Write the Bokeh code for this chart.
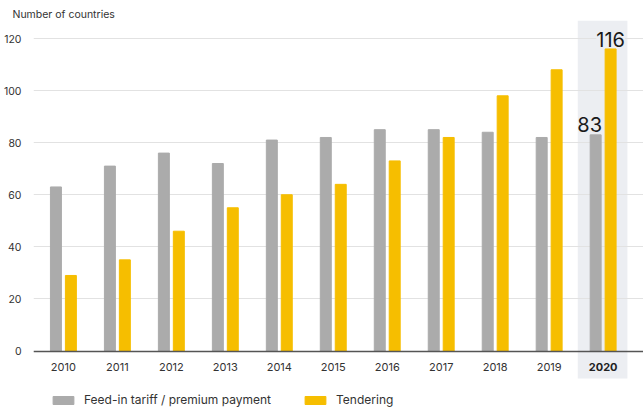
from bokeh.plotting import figure
from bokeh.models import (Range1d, FixedTicker, LinearAxis, BoxAnnotation, Label,
                          ColumnDataSource)
from bokeh.transform import dodge
from bokeh.embed import file_html
from bokeh.resources import INLINE

# Number of countries with each support policy, per year
years = [2010, 2011, 2012, 2013, 2014, 2015, 2016, 2017, 2018, 2019, 2020]
feed_in = [63, 71, 76, 72, 81, 82, 85, 85, 84, 82, 83]
tendering = [29, 35, 46, 55, 60, 64, 73, 82, 98, 108, 116]
y_ticks = [0, 20, 40, 60, 80, 100, 120]

series_names = ["Feed-in tariff / premium payment", "Tendering"]
GREY = "#ababab"
YELLOW = "#f6be00"
HIGHLIGHT = "#eceef2"
FONT = "Inter"

# geometry: pixels per year and per country; frame from x=31 to 643, y=TOP to 407
PX_YEAR = 54.15
PX_UNIT = 2.604
TOP = 20
FIRST_CENTER_PX = 30.0  # first group centre, measured from the frame's left edge
ZERO_PX = 350.5         # baseline, measured from the top of the canvas
H = 407
W_FRAME = 643 - 31

x_start = years[0] - FIRST_CENTER_PX / PX_YEAR
x_end = x_start + W_FRAME / PX_YEAR
y_end = (ZERO_PX - TOP) / PX_UNIT
y_start = -(H - ZERO_PX) / PX_UNIT

src = ColumnDataSource(dict(year=years, feed_in=feed_in, tendering=tendering))

p = figure(width=643, height=407, output_backend="svg", toolbar_location=None,
           x_range=Range1d(x_start, x_end), y_range=Range1d(y_start, y_end),
           min_border_left=31, min_border_right=0, min_border_top=TOP,
           min_border_bottom=0, outline_line_color=None,
           background_fill_color="white", border_fill_color="white")

# caption above the plot area
p.title.text = "Number of countries"
p.title.align = "left"
p.title.offset = -21
p.title.standoff = 0
p.title.text_font = FONT
p.title.text_font_size = "10.5px"
p.title.text_font_style = "normal"
p.title.text_color = "#333333"

# highlighted latest year
p.add_layout(BoxAnnotation(left=years[-1] - 0.47, right=years[-1] + 0.45,
                           top=y_end, bottom=-10.6, fill_color=HIGHLIGHT,
                           fill_alpha=1.0, line_color=None, level="image"))

bar_w = 11 / PX_YEAR
off = 7.5 / PX_YEAR
p.vbar(x=dodge("year", -off, range=p.x_range), top="feed_in", width=bar_w,
       source=src, color=GREY, legend_label=series_names[0])
p.vbar(x=dodge("year", off, range=p.x_range), top="tendering", width=bar_w,
       source=src, color=YELLOW, legend_label=series_names[1])

# y axis and grid
p.yaxis.ticker = FixedTicker(ticks=y_ticks)
p.yaxis.axis_line_color = None
p.yaxis.major_tick_line_color = None
p.yaxis.minor_tick_line_color = None
p.yaxis.major_label_standoff = 6
p.yaxis.major_label_text_font = FONT
p.yaxis.major_label_text_font_size = "10.5px"
p.yaxis.major_label_text_color = "#333333"
p.ygrid.ticker = FixedTicker(ticks=y_ticks)
p.ygrid.grid_line_color = "#e2e2e2"
p.ygrid.grid_line_width = 1
p.xgrid.visible = False

# x axis sitting on the zero line
xa = p.xaxis[0]
xa.fixed_location = 0
xa.ticker = FixedTicker(ticks=years)
xa.major_label_overrides = {y: (str(y) if y != years[-1] else "") for y in years}
xa.axis_line_color = "#555555"
xa.axis_line_width = 1.6
xa.major_tick_line_color = None
xa.minor_tick_line_color = None
xa.major_label_standoff = 6
xa.major_label_text_font = FONT
xa.major_label_text_font_size = "11px"
xa.major_label_text_color = "#333333"

xa_last = LinearAxis(fixed_location=0, ticker=FixedTicker(ticks=[years[-1]]),
                     major_label_overrides={years[-1]: str(years[-1])},
                     axis_line_color=None, major_tick_line_color=None,
                     minor_tick_line_color=None, major_label_standoff=6,
                     major_label_text_font=FONT, major_label_text_font_size="11px",
                     major_label_text_font_style="bold",
                     major_label_text_color="#222222")
p.add_layout(xa_last, "below")

# value call-outs for the latest year
p.add_layout(Label(x=years[-1] + off, y=tendering[-1], text=str(tendering[-1]),
                   text_align="center", text_baseline="bottom", y_offset=2,
                   text_font=FONT, text_font_size="20px", text_color="#1a1a1a",
                   background_fill_color=HIGHLIGHT, padding=0))
p.add_layout(Label(x=years[-1] - off, y=feed_in[-1], text=str(feed_in[-1]),
                   text_align="center", text_baseline="bottom", x_offset=-6,
                   y_offset=3, text_font=FONT, text_font_size="20px",
                   text_color="#1a1a1a"))

# legend below the axis
lg = p.legend[0]
lg.location = (17, 0)
lg.orientation = "horizontal"
lg.glyph_width = 26
lg.glyph_height = 10
lg.label_height = 14
lg.label_standoff = 8
lg.spacing = 31
lg.padding = 0
lg.margin = 0
lg.border_line_color = None
lg.background_fill_alpha = 0
lg.label_text_font = FONT
lg.label_text_font_size = "12px"
lg.label_text_color = "#333333"
lg.label_text_baseline = "middle"

open("out.html", "w").write(file_html(p, INLINE))
